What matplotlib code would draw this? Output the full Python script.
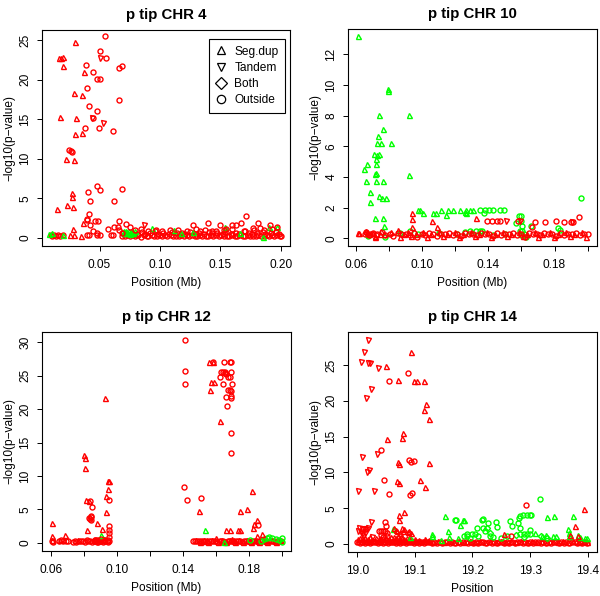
import matplotlib
matplotlib.use('Agg')
import matplotlib.pyplot as plt
from matplotlib.lines import Line2D

plt.rcParams['font.family'] = ['Liberation Sans', 'DejaVu Sans']

RED = '#ff0000'
GREEN = '#00ff00'

# ---------------- p tip CHR 4 ----------------
c4_seg_red = [(0.0293, 24.8), (0.0163, 22.8), (0.0185, 22.8), (0.0196, 22.9), (0.0196, 21.7), (0.037, 21.0),
              (0.0285, 18.3), (0.0354, 18.1), (0.0169, 15.25), (0.0304, 15.2), (0.0298, 13.1), (0.0354, 13.3),
              (0.0224, 9.96), (0.029, 9.8), (0.0273, 5.7), (0.0273, 5.1), (0.0232, 4.2), (0.0279, 3.9),
              (0.0149, 3.6), (0.0279, 1.1), (0.0367, 1.9), (0.0345, 0.25), (0.0254, 0.3), (0.0285, 0.3)]
c4_tan_red = [(0.05, 22.8), (0.044, 15.2), (0.053, 14.5), (0.0865, 1.6)]
c4_out_red = [(0.0547, 25.6), (0.0506, 23.7), (0.055, 22.8), (0.0384, 21.9), (0.045, 21.0), (0.0475, 20.1),
              (0.0506, 20.1), (0.0398, 18.95), (0.066, 21.5), (0.0685, 21.7), (0.0657, 17.4), (0.0417, 16.7),
              (0.0483, 16.0), (0.0448, 15.2), (0.0378, 13.9), (0.0492, 13.95), (0.0608, 13.5), (0.025, 11.05),
              (0.0265, 11.0), (0.0273, 10.9), (0.0475, 6.6), (0.0503, 6.1), (0.0685, 6.2), (0.0401, 5.75),
              (0.042, 4.6), (0.0616, 4.65), (0.0417, 3.0), (0.0395, 2.2), (0.0397, 2.35), (0.046, 2.1),
              (0.049, 2.1), (0.066, 2.1), (0.042, 1.55), (0.057, 1.1), (0.062, 1.4), (0.065, 1.4),
              (0.0442, 0.85), (0.048, 0.55), (0.0395, 0.3), (0.041, 0.3), (0.0475, 0.3), (0.0505, 0.3),
              (0.0597, 0.3), (0.061, 0.3), (0.066, 1.0), (0.069, 0.55),
              (0.1715, 2.7), (0.140, 1.85), (0.127, 1.6), (0.150, 1.6), (0.160, 1.6), (0.163, 1.6),
              (0.167, 1.9), (0.181, 1.9), (0.191, 1.6), (0.197, 1.4), (0.177, 1.25), (0.072, 1.7),
              (0.0845, 1.1), (0.097, 1.0), (0.108, 1.0), (0.115, 0.95), (0.130, 1.05), (0.137, 1.0),
              (0.146, 0.9), (0.155, 1.15), (0.160, 1.05), (0.178, 0.95), (0.186, 1.0), (0.193, 1.1),
              (0.075, 1.3), (0.079, 1.0), (0.090, 0.9), (0.102, 0.8), (0.122, 0.85), (0.133, 0.9),
              (0.143, 0.8), (0.153, 1.0), (0.170, 0.9), (0.183, 1.2), (0.196, 0.75)]
c4_base_left = [(0.0095, 0.3), (0.011, 0.2), (0.0125, 0.35), (0.014, 0.25), (0.0155, 0.3), (0.0175, 0.25),
                (0.020, 0.3)]
c4_band1 = [(0.0685, 0.25), (0.071, 0.18), (0.0732, 0.3), (0.0751, 0.22), (0.0778, 0.35), (0.0795, 0.2),
            (0.0822, 0.28), (0.0841, 0.15), (0.0866, 0.32), (0.0889, 0.24), (0.0905, 0.19), (0.0931, 0.3),
            (0.0952, 0.26), (0.0974, 0.17), (0.0998, 0.33), (0.1015, 0.22), (0.1043, 0.28), (0.1062, 0.2),
            (0.1089, 0.31), (0.1108, 0.16), (0.1131, 0.27), (0.1155, 0.23), (0.1174, 0.34), (0.1199, 0.19),
            (0.1221, 0.29), (0.1243, 0.21), (0.1262, 0.3), (0.1288, 0.18), (0.1306, 0.26), (0.1333, 0.32),
            (0.1351, 0.2), (0.1377, 0.25), (0.1398, 0.17), (0.1419, 0.3), (0.1442, 0.23), (0.1465, 0.28),
            (0.1486, 0.19), (0.1508, 0.33), (0.1527, 0.21), (0.1553, 0.27), (0.1574, 0.16), (0.1596, 0.3),
            (0.1618, 0.24), (0.1641, 0.2), (0.1663, 0.29), (0.1684, 0.18), (0.1705, 0.26), (0.1729, 0.31),
            (0.1748, 0.22), (0.1772, 0.27), (0.1793, 0.17), (0.1815, 0.3), (0.1838, 0.2), (0.1859, 0.25),
            (0.1882, 0.33), (0.1903, 0.19), (0.1925, 0.28), (0.1947, 0.22), (0.1966, 0.3), (0.1992, 0.24),
            (0.2, 0.26)]
c4_band2 = [(0.0697, 0.55), (0.0722, 0.45), (0.0765, 0.6), (0.0808, 0.5), (0.0853, 0.7), (0.0877, 0.45),
            (0.0918, 0.6), (0.0963, 0.8), (0.0987, 0.5), (0.1029, 0.65), (0.1075, 0.45), (0.1098, 0.75),
            (0.1142, 0.55), (0.1186, 0.6), (0.1210, 0.45), (0.1252, 0.7), (0.1297, 0.5), (0.1320, 0.6),
            (0.1364, 0.45), (0.1409, 0.75), (0.1431, 0.55), (0.1476, 0.6), (0.1519, 0.5), (0.1542, 0.7),
            (0.1585, 0.45), (0.1629, 0.65), (0.1652, 0.5), (0.1695, 0.8), (0.1738, 0.55), (0.1761, 0.45),
            (0.1804, 0.6), (0.1849, 0.7), (0.1871, 0.5), (0.1915, 0.6), (0.1958, 0.75), (0.1981, 0.5)]
c4_seg_green = [(0.0086, 0.45), (0.0105, 0.55), (0.0196, 0.4), (0.070, 0.8), (0.0715, 0.8), (0.073, 0.75),
                (0.0745, 0.8), (0.076, 0.7), (0.0775, 0.75), (0.079, 0.8), (0.0705, 0.55), (0.0725, 0.6),
                (0.0755, 0.5), (0.078, 0.55), (0.0937, 1.25), (0.112, 1.0), (0.117, 0.55), (0.154, 1.3),
                (0.185, 0.05), (0.19, 1.4), (0.197, 1.3), (0.127, 0.75), (0.166, 0.6)]

# ---------------- p tip CHR 10 ----------------
c10_seg_green = [(0.0614, 13.17), (0.065, 4.54), (0.0668, 4.86), (0.066, 3.74), (0.0686, 3.02), (0.0686, 2.35),
                 (0.0715, 1.34), (0.0717, 4.2), (0.0725, 4.28), (0.072, 4.82), (0.0721, 5.16), (0.0727, 5.46),
                 (0.071, 5.5), (0.0741, 5.5), (0.0731, 6.24), (0.0753, 6.24), (0.0733, 6.65), (0.0739, 8.03),
                 (0.0725, 3.74), (0.0739, 2.79), (0.0763, 7.13), (0.0765, 3.74), (0.0761, 2.66), (0.0785, 2.66),
                 (0.0765, 1.32), (0.0773, 0.78), (0.0795, 9.74), (0.0795, 9.63), (0.0815, 6.24), (0.0922, 8.03),
                 (0.0922, 4.13), (0.0976, 1.86), (0.0986, 1.86), (0.1006, 1.64), (0.1066, 1.64), (0.1086, 1.64),
                 (0.1117, 1.86), (0.1157, 1.86), (0.1147, 1.5), (0.1187, 1.86), (0.1227, 1.86), (0.1257, 1.7),
                 (0.1263, 1.86), (0.1287, 1.86), (0.1308, 1.86), (0.1267, 1.64)]
c10_out_green = [(0.1348, 1.86), (0.1378, 1.86), (0.1402, 1.86), (0.1428, 1.86), (0.1374, 1.64), (0.1468, 1.86),
                 (0.1492, 1.86), (0.1289, 0.5), (0.1328, 0.5), (0.1348, 0.5), (0.1583, 1.43), (0.1595, 1.43),
                 (0.1597, 1.15), (0.1603, 0.8), (0.1603, 0.5), (0.157, 0.97), (0.166, 0.8), (0.182, 0.7),
                 (0.183, 0.56), (0.1957, 2.62), (0.163, 0.1), (0.0865, 0.35), (0.078, 0.06), (0.0675, 0.15),
                 (0.1615, 0.3), (0.160, 0.2), (0.136, 0.45), (0.093, 0.5), (0.0975, 0.25), (0.110, 0.35),
                 (0.121, 0.3), (0.126, 0.4), (0.143, 0.2), (0.150, 0.3), (0.159, 0.45)]
c10_seg_red = [(0.0614, 0.35), (0.0620, 0.35), (0.066, 0.5), (0.0751, 0.5), (0.0719, 0.06), (0.0938, 1.27),
               (0.094, 1.62), (0.0938, 0.71), (0.106, 1.14), (0.109, 0.76), (0.1326, 1.34), (0.0855, 0.54),
               (0.0678, 0.3), (0.0705, 0.35), (0.0745, 0.3)]
c10_out_red = [(0.139, 1.1), (0.142, 1.1), (0.145, 1.1), (0.147, 1.1), (0.1947, 1.36), (0.1806, 1.1),
               (0.174, 1.08), (0.168, 1.08), (0.1854, 1.08), (0.19, 1.08), (0.191, 1.08), (0.1665, 0.76),
               (0.158, 1.1), (0.0665, 0.4), (0.0685, 0.3), (0.072, 0.2)]
c10_tan_red = [(0.151, 1.1), (0.1904, 1.05), (0.159, 1.1)]
c10_band1 = [(0.0655, 0.3), (0.0682, 0.2), (0.0706, 0.35), (0.0731, 0.25), (0.0758, 0.4), (0.0779, 0.2),
             (0.0805, 0.3), (0.0828, 0.15), (0.0853, 0.35), (0.0876, 0.25), (0.0902, 0.3), (0.0925, 0.2),
             (0.0951, 0.35), (0.0972, 0.1), (0.0998, 0.3), (0.1021, 0.2), (0.1045, 0.35), (0.1069, 0.25),
             (0.1093, 0.15), (0.1118, 0.3), (0.1141, 0.25), (0.1166, 0.35), (0.1189, 0.2), (0.1213, 0.3),
             (0.1238, 0.15), (0.1261, 0.35), (0.1285, 0.25), (0.1309, 0.3), (0.1333, 0.2), (0.1357, 0.35),
             (0.1381, 0.25), (0.1404, 0.3), (0.1428, 0.15), (0.1453, 0.35), (0.1476, 0.2), (0.1501, 0.3),
             (0.1524, 0.25), (0.1548, 0.35), (0.1572, 0.2), (0.1596, 0.3), (0.1619, 0.1), (0.1644, 0.35),
             (0.1667, 0.25), (0.1692, 0.3), (0.1715, 0.2), (0.1739, 0.35), (0.1763, 0.25), (0.1787, 0.3),
             (0.1811, 0.15), (0.1836, 0.35), (0.1858, 0.2), (0.1883, 0.3), (0.1907, 0.25), (0.1931, 0.35),
             (0.1955, 0.2), (0.1978, 0.3), (0.2, 0.25)]
c10_band2 = [(0.0669, 0.4), (0.0718, 0.15), (0.0769, 0.3), (0.0816, 0.4), (0.0866, 0.1), (0.0890, 0.3),
             (0.0913, 0.4), (0.0937, 0.15), (0.0962, 0.25), (0.1009, 0.4), (0.1033, 0.1), (0.1057, 0.3),
             (0.1105, 0.4), (0.1129, 0.15), (0.1153, 0.25), (0.1201, 0.4), (0.1225, 0.1), (0.1249, 0.3),
             (0.1297, 0.4), (0.1321, 0.15), (0.1345, 0.25), (0.1393, 0.4), (0.1417, 0.1), (0.1441, 0.3),
             (0.1488, 0.4), (0.1512, 0.15), (0.1536, 0.25), (0.1584, 0.4), (0.1608, 0.15), (0.1632, 0.3),
             (0.1679, 0.4), (0.1703, 0.1), (0.1727, 0.3), (0.1775, 0.4), (0.1799, 0.1), (0.1823, 0.3),
             (0.1871, 0.4), (0.1895, 0.15), (0.1919, 0.3), (0.1967, 0.4), (0.1991, 0.1)]

# ---------------- p tip CHR 12 ----------------
c12_seg_red = [(0.0602, 3.02), (0.0602, 1.0), (0.0606, 0.5), (0.0683, 1.24), (0.0652, 0.5), (0.0763, 0.4),
               (0.0926, 21.6), (0.0799, 13.1), (0.0805, 12.7), (0.0805, 11.2), (0.0809, 6.44), (0.0829, 6.25),
               (0.0815, 1.98), (0.088, 3.02), (0.0908, 2.03), (0.093, 7.04), (0.0935, 4.6), (0.0945, 8.03),
               (0.0945, 9.3), (0.0949, 9.2), (0.1562, 22.9), (0.1558, 27.0), (0.1582, 27.0), (0.1568, 24.0),
               (0.159, 24.0), (0.1623, 18.2), (0.1497, 4.76), (0.1745, 4.76), (0.1659, 1.9), (0.1686, 1.9),
               (0.1737, 1.88), (0.1749, 1.88), (0.1791, 5.1), (0.1817, 7.73), (0.1825, 2.3), (0.185, 3.47),
               (0.183, 2.9), (0.1878, 1.3), (0.1848, 1.0), (0.1695, 0.6), (0.1603, 0.7), (0.1545, 0.5),
               (0.1515, 0.3), (0.171, 0.5)]
c12_out_red = [(0.0835, 6.2), (0.0845, 5.35), (0.083, 3.77), (0.0835, 3.6), (0.0839, 3.4), (0.084, 4.0),
               (0.0843, 3.9), (0.095, 6.35), (0.095, 2.48), (0.095, 1.88), (0.095, 1.5), (0.095, 0.9),
               (0.1412, 30.3), (0.1412, 25.7), (0.1412, 23.8), (0.1406, 8.33), (0.1422, 6.35), (0.1511, 6.7),
               (0.158, 27.0), (0.1649, 27.0), (0.1683, 27.0), (0.169, 27.0), (0.1629, 25.6), (0.1645, 25.6),
               (0.1655, 25.6), (0.169, 25.6), (0.1655, 25.4), (0.1659, 25.3), (0.1623, 24.8), (0.1676, 24.8),
               (0.1686, 24.8), (0.1645, 23.8), (0.1696, 23.8), (0.1676, 22.9), (0.1686, 22.8), (0.169, 22.7),
               (0.1659, 21.8), (0.1694, 22.0), (0.1694, 21.6), (0.1665, 20.4), (0.1694, 16.35), (0.1694, 13.4),
               (0.1858, 2.7), (0.0925, 0.5), (0.0905, 0.6), (0.0865, 0.5)]
c12_seg_green = [(0.0904, 1.2), (0.1536, 2.0), (0.1649, 0.15)]
c12_out_green = [(0.1808, 0.5), (0.191, 0.8), (0.1925, 0.9), (0.1963, 0.55), (0.2, 0.8), (0.2, 0.15),
                 (0.1875, 0.3), (0.1895, 0.6), (0.194, 0.7), (0.1985, 0.4)]
c12_band_left = [(0.0605, 0.3), (0.0612, 0.2), (0.0648, 0.3), (0.0661, 0.4), (0.0672, 0.25), (0.0689, 0.35),
                 (0.0702, 0.3), (0.0731, 0.2), (0.0745, 0.3), (0.0752, 0.15), (0.0768, 0.35), (0.0779, 0.25),
                 (0.0792, 0.3), (0.0803, 0.2), (0.0818, 0.4), (0.0826, 0.25), (0.0838, 0.3), (0.0846, 0.2),
                 (0.0857, 0.35), (0.0864, 0.25), (0.0872, 0.3), (0.0881, 0.15), (0.0889, 0.4), (0.0897, 0.25),
                 (0.0903, 0.3), (0.0912, 0.2), (0.0919, 0.35), (0.0928, 0.25), (0.0936, 0.3), (0.0944, 0.15),
                 (0.0951, 0.3), (0.0866, 0.5), (0.0876, 0.45), (0.0884, 0.2), (0.0912, 0.5), (0.0921, 0.45),
                 (0.0944, 0.4)]
c12_band_right1 = [(0.1462, 0.3), (0.1473, 0.35), (0.1486, 0.25), (0.1495, 0.3), (0.1509, 0.35), (0.1519, 0.25),
                   (0.1534, 0.3), (0.1547, 0.2), (0.1561, 0.3), (0.1568, 0.35), (0.1584, 0.25), (0.1597, 0.3),
                   (0.1606, 0.2), (0.1622, 0.35), (0.1631, 0.25), (0.1646, 0.3), (0.1657, 0.2), (0.1671, 0.35),
                   (0.1682, 0.25), (0.1694, 0.3), (0.1709, 0.2), (0.1719, 0.35), (0.1734, 0.25), (0.1744, 0.3),
                   (0.1759, 0.2), (0.1768, 0.35), (0.1784, 0.25), (0.1796, 0.3), (0.1807, 0.2), (0.1822, 0.35),
                   (0.1831, 0.25), (0.1847, 0.3), (0.1856, 0.2), (0.1872, 0.35), (0.1881, 0.25), (0.1897, 0.3),
                   (0.1906, 0.2), (0.1921, 0.35), (0.1934, 0.25), (0.1944, 0.3), (0.1959, 0.2), (0.1969, 0.35),
                   (0.1984, 0.25), (0.1996, 0.3)]
c12_band_right2 = [(0.1478, 0.45), (0.1502, 0.1), (0.1527, 0.45), (0.1553, 0.15), (0.1576, 0.4), (0.1615, 0.1),
                   (0.1639, 0.45), (0.1664, 0.1), (0.1688, 0.45), (0.1713, 0.15), (0.1738, 0.4), (0.1762, 0.1),
                   (0.1788, 0.45), (0.1813, 0.15), (0.1838, 0.4), (0.1862, 0.1), (0.1888, 0.45), (0.1913, 0.15),
                   (0.1938, 0.4), (0.1963, 0.1), (0.1988, 0.45)]

# ---------------- p tip CHR 14 ----------------
c14_seg_red = [(19.0496, 24.9), (19.071, 22.9), (19.0525, 14.6), (19.079, 15.44), (19.077, 14.74),
               (19.0705, 11.4), (19.0733, 11.2), (19.0687, 8.8), (19.0727, 8.5), (19.081, 4.43), (19.0727, 4.1),
               (19.0727, 3.3), (19.094, 26.8), (19.0987, 22.8), (19.104, 22.8), (19.115, 22.8), (19.119, 19.5),
               (19.115, 18.66), (19.124, 17.4), (19.1247, 11.38), (19.109, 9.0), (19.118, 7.93), (19.0906, 1.77),
               (19.094, 1.5), (19.0635, 2.24), (19.067, 2.0), (19.069, 1.77), (19.074, 1.54), (19.077, 2.24),
               (19.08, 1.77), (19.081, 2.15), (19.0715, 1.2), (19.076, 1.0), (19.0635, 1.0), (19.3775, 2.57),
               (19.394, 4.9), (19.255, 1.45), (19.37, 1.3), (19.383, 1.2), (19.0885, 1.7)]
c14_tan_red = [(19.0017, 7.37), (19.008, 12.1), (19.0064, 25.4), (19.012, 26.8), (19.0185, 28.5), (19.015, 20.4),
               (19.019, 25.3), (19.022, 25.3), (19.0242, 21.7), (19.0173, 10.0), (19.0208, 10.3), (19.024, 3.08),
               (19.029, 7.46), (19.0358, 24.6), (19.035, 12.6), (19.0035, 2.2), (19.0075, 2.1), (19.0115, 2.15),
               (19.0144, 2.1), (19.019, 2.2), (19.009, 1.4), (19.0104, 1.2), (19.0139, 1.5), (19.0248, 0.93),
               (19.001, 1.9), (19.006, 1.7)]
c14_out_red = [(19.0554, 22.7), (19.041, 13.2), (19.0456, 9.0), (19.0554, 7.04), (19.088, 23.9), (19.09, 11.8),
               (19.0935, 11.5), (19.0993, 11.6), (19.091, 6.9), (19.095, 7.1), (19.048, 3.08), (19.05, 2.5),
               (19.0375, 1.9), (19.041, 1.8), (19.044, 1.8), (19.048, 1.8), (19.0404, 1.3), (19.052, 1.6),
               (19.0525, 1.2), (19.045, 0.93), (19.293, 5.4), (19.266, 1.2)]
c14_out_green = [(19.169, 3.4), (19.172, 3.35), (19.19, 1.4), (19.19, 1.1), (19.20, 1.45), (19.204, 1.45),
                 (19.208, 2.24), (19.216, 3.4), (19.218, 3.5), (19.218, 2.2), (19.221, 1.8), (19.227, 2.9),
                 (19.24, 3.1), (19.242, 2.4), (19.231, 1.2), (19.235, 1.0), (19.265, 3.2), (19.268, 2.5),
                 (19.279, 2.9), (19.282, 2.2), (19.28, 3.6), (19.283, 3.9), (19.288, 4.0), (19.294, 4.1),
                 (19.299, 4.05), (19.302, 4.0), (19.283, 1.4), (19.289, 1.45), (19.295, 1.4), (19.30, 1.4),
                 (19.299, 2.0), (19.317, 6.3), (19.21, 1.1), (19.25, 0.8), (19.26, 1.1), (19.185, 1.2),
                 (19.195, 0.9)]
c14_both_green = [(19.225, 2.2), (19.23, 1.5), (19.29, 1.0), (19.276, 1.3), (19.318, 1.2), (19.33, 0.9)]
c14_seg_green = [(19.153, 3.87), (19.157, 1.77), (19.178, 2.6), (19.184, 3.36), (19.186, 3.3), (19.13, 1.4),
                 (19.13, 1.1), (19.091, 1.0), (19.062, 2.1), (19.308, 1.5), (19.329, 3.73), (19.341, 3.9),
                 (19.375, 3.9), (19.365, 2.1), (19.367, 1.6), (19.368, 1.1), (19.383, 1.3), (19.387, 1.0),
                 (19.395, 0.9), (19.399, 0.85), (19.320, 1.2), (19.328, 1.25), (19.34, 1.2), (19.345, 1.1),
                 (19.16, 1.0), (19.175, 0.9), (19.145, 0.6)]
c14_band1 = [(19.000, .25), (19.004, .2), (19.009, .3), (19.013, .22), (19.017, .28), (19.022, .2), (19.026, .3),
             (19.031, .25), (19.036, .2), (19.040, .3), (19.044, .22), (19.049, .28), (19.053, .2), (19.058, .3),
             (19.062, .25), (19.067, .2), (19.071, .3), (19.075, .22), (19.080, .28), (19.085, .2), (19.089, .3),
             (19.093, .25), (19.098, .2), (19.102, .3), (19.107, .22), (19.111, .28), (19.116, .2), (19.120, .3),
             (19.125, .25), (19.129, .2), (19.134, .3), (19.138, .22), (19.143, .28), (19.147, .2), (19.152, .3),
             (19.156, .25), (19.161, .2), (19.165, .3), (19.170, .22), (19.174, .28), (19.179, .2), (19.183, .3),
             (19.188, .25), (19.192, .2), (19.197, .3), (19.201, .22), (19.206, .28), (19.210, .2), (19.215, .3),
             (19.219, .25), (19.224, .2), (19.228, .3), (19.233, .22), (19.237, .28), (19.242, .2), (19.246, .3),
             (19.251, .25), (19.255, .2), (19.260, .3), (19.264, .22), (19.269, .28), (19.273, .2), (19.278, .3),
             (19.282, .25), (19.287, .2), (19.291, .3), (19.296, .22), (19.300, .28), (19.305, .2), (19.309, .3),
             (19.314, .25), (19.318, .2), (19.323, .3), (19.327, .22), (19.332, .28), (19.336, .2), (19.341, .3),
             (19.345, .25), (19.350, .2), (19.354, .3), (19.359, .22), (19.363, .28), (19.368, .2), (19.372, .3),
             (19.377, .25), (19.381, .2), (19.386, .3), (19.390, .22), (19.395, .28), (19.399, .2)]
c14_band2 = [(19.002, .45), (19.007, .5), (19.011, .4), (19.015, .5), (19.020, .45), (19.024, .4), (19.029, .5),
             (19.033, .45), (19.038, .5), (19.042, .4), (19.047, .45), (19.051, .5), (19.056, .4), (19.060, .45),
             (19.065, .5), (19.069, .4), (19.073, .45), (19.078, .5), (19.082, .4), (19.087, .45), (19.091, .5),
             (19.096, .4), (19.100, .45), (19.105, .5), (19.109, .4), (19.114, .45), (19.118, .5), (19.123, .4),
             (19.127, .45), (19.131, .35), (19.141, .4), (19.150, .35), (19.159, .4), (19.168, .35), (19.177, .4),
             (19.186, .35), (19.195, .4), (19.204, .35), (19.213, .4), (19.222, .35), (19.231, .4), (19.240, .35),
             (19.249, .4), (19.258, .35), (19.267, .4), (19.276, .35), (19.285, .4), (19.294, .35), (19.303, .4),
             (19.312, .35), (19.321, .4), (19.330, .35), (19.339, .4), (19.348, .35), (19.357, .4), (19.366, .35),
             (19.375, .4), (19.384, .35), (19.393, .4), (19.398, .35)]
c14_band3 = [(19.001, .7), (19.005, .9), (19.010, .65), (19.014, .8), (19.019, .7), (19.023, .95), (19.028, .6),
             (19.032, .85), (19.037, .7), (19.041, .9), (19.046, .65), (19.050, .8), (19.055, .7), (19.059, .95),
             (19.064, .6), (19.068, .85), (19.073, .7), (19.077, .9), (19.082, .65), (19.086, .8), (19.091, .7),
             (19.095, .6), (19.100, .65), (19.108, .6), (19.117, .65), (19.125, .6)]


def pts(ax, pairs, marker, color, ms=3.6):
    xs = [p[0] for p in pairs]
    ys = [p[1] for p in pairs]
    ax.plot(xs, ys, linestyle='none', marker=marker, mfc='none', mec=color,
            ms=ms, mew=1.0, clip_on=False)


def style_axes(ax, title, xlabel, xticks, xticklabels, yticks, xlim, ylim):
    ax.set_xlim(*xlim)
    ax.set_ylim(*ylim)
    ax.set_title(title, fontsize=10.8, fontweight='bold', pad=8)
    ax.set_xlabel(xlabel, fontsize=8.6, labelpad=4.5)
    ax.set_ylabel('\u2212log10(p\u2212value)', fontsize=8.6, labelpad=3)
    ax.set_xticks(xticks)
    ax.set_xticklabels(xticklabels)
    ax.set_yticks(yticks)
    ax.set_yticklabels([str(t) for t in yticks])
    ax.tick_params(length=3.6, width=0.7, labelsize=8.6, pad=4)
    ax.tick_params(axis='x', pad=5.5)
    for lbl in ax.get_yticklabels():
        lbl.set_rotation(90)
        lbl.set_va('center')
    for s in ax.spines.values():
        s.set_linewidth(0.8)


fig = plt.figure(figsize=(6.0, 5.96), dpi=100)

# CHR 4
ax1 = fig.add_axes([42 / 600, 1 - 246 / 596, 248 / 600, 216 / 596])
pts(ax1, c4_base_left, 'o', RED)
pts(ax1, c4_band1, 'o', RED)
pts(ax1, c4_band2, 'o', RED)
pts(ax1, c4_seg_green, '^', GREEN)
pts(ax1, c4_seg_red, '^', RED)
pts(ax1, c4_tan_red, 'v', RED)
pts(ax1, c4_out_red, 'o', RED)
style_axes(ax1, 'p tip CHR 4', 'Position (Mb)', [0.05, 0.10, 0.15, 0.20],
           ['0.05', '0.10', '0.15', '0.20'], [0, 5, 10, 15, 20, 25], (0.0024, 0.2076), (-1.05, 26.3))
handles = [Line2D([], [], linestyle='none', marker=m, mfc='none', mec='black', ms=6, mew=0.9)
           for m in ['^', 'v', 'D', 'o']]
leg = ax1.legend(handles, ['Seg.dup', 'Tandem', 'Both', 'Outside'], loc='upper right',
                 bbox_to_anchor=(0.98, 0.958), fontsize=8.6, frameon=True, fancybox=False,
                 framealpha=1, edgecolor='black', handlelength=1.0, handletextpad=0.6,
                 labelspacing=0.35, borderpad=0.55, borderaxespad=0)
leg.get_frame().set_linewidth(0.8)

# CHR 10
ax2 = fig.add_axes([348 / 600, 1 - 246 / 596, 249 / 600, 217 / 596])
pts(ax2, c10_out_green, 'o', GREEN)
pts(ax2, c10_band1, 'o', RED)
pts(ax2, c10_band2, '^', RED)
pts(ax2, c10_seg_green, '^', GREEN)
pts(ax2, c10_seg_red, '^', RED)
pts(ax2, c10_out_red, 'o', RED)
pts(ax2, c10_tan_red, 'v', RED)
style_axes(ax2, 'p tip CHR 10', 'Position (Mb)', [0.06, 0.08, 0.10, 0.12, 0.14, 0.16, 0.18, 0.20],
           ['0.06', '', '0.10', '', '0.14', '', '0.18', ''], [0, 2, 4, 6, 8, 10, 12],
           (0.0554, 0.2056), (-0.5, 13.65))

# CHR 12
ax3 = fig.add_axes([42 / 600, 1 - 551 / 596, 249 / 600, 219 / 596])
pts(ax3, c12_band_left, 'o', RED)
pts(ax3, c12_band_right1, 'o', RED)
pts(ax3, c12_band_right2, '^', RED)
pts(ax3, c12_out_green, 'o', GREEN)
pts(ax3, c12_seg_green, '^', GREEN)
pts(ax3, c12_seg_red, '^', RED)
pts(ax3, c12_out_red, 'o', RED)
style_axes(ax3, 'p tip CHR 12', 'Position (Mb)', [0.06, 0.08, 0.10, 0.12, 0.14, 0.16, 0.18, 0.20],
           ['0.06', '', '0.10', '', '0.14', '', '0.18', ''], [0, 5, 10, 15, 20, 25, 30],
           (0.0544, 0.2056), (-1.2, 31.5))

# CHR 14
ax4 = fig.add_axes([348 / 600, 1 - 552 / 596, 249 / 600, 220 / 596])
pts(ax4, c14_band1, 'o', RED)
pts(ax4, c14_band2, '^', RED)
pts(ax4, c14_band3, '^', RED)
pts(ax4, c14_out_green, 'o', GREEN)
pts(ax4, c14_both_green, 'D', GREEN, ms=3.1)
pts(ax4, c14_seg_green, '^', GREEN)
pts(ax4, c14_seg_red, '^', RED)
pts(ax4, c14_tan_red, 'v', RED)
pts(ax4, c14_out_red, 'o', RED)
style_axes(ax4, 'p tip CHR 14', 'Position', [19.0, 19.1, 19.2, 19.3, 19.4],
           ['19.0', '19.1', '19.2', '19.3', '19.4'], [0, 5, 10, 15, 20, 25],
           (18.984, 19.416), (-1.1, 29.6))

plt.savefig('out.png', dpi=100)
plt.close('all')
